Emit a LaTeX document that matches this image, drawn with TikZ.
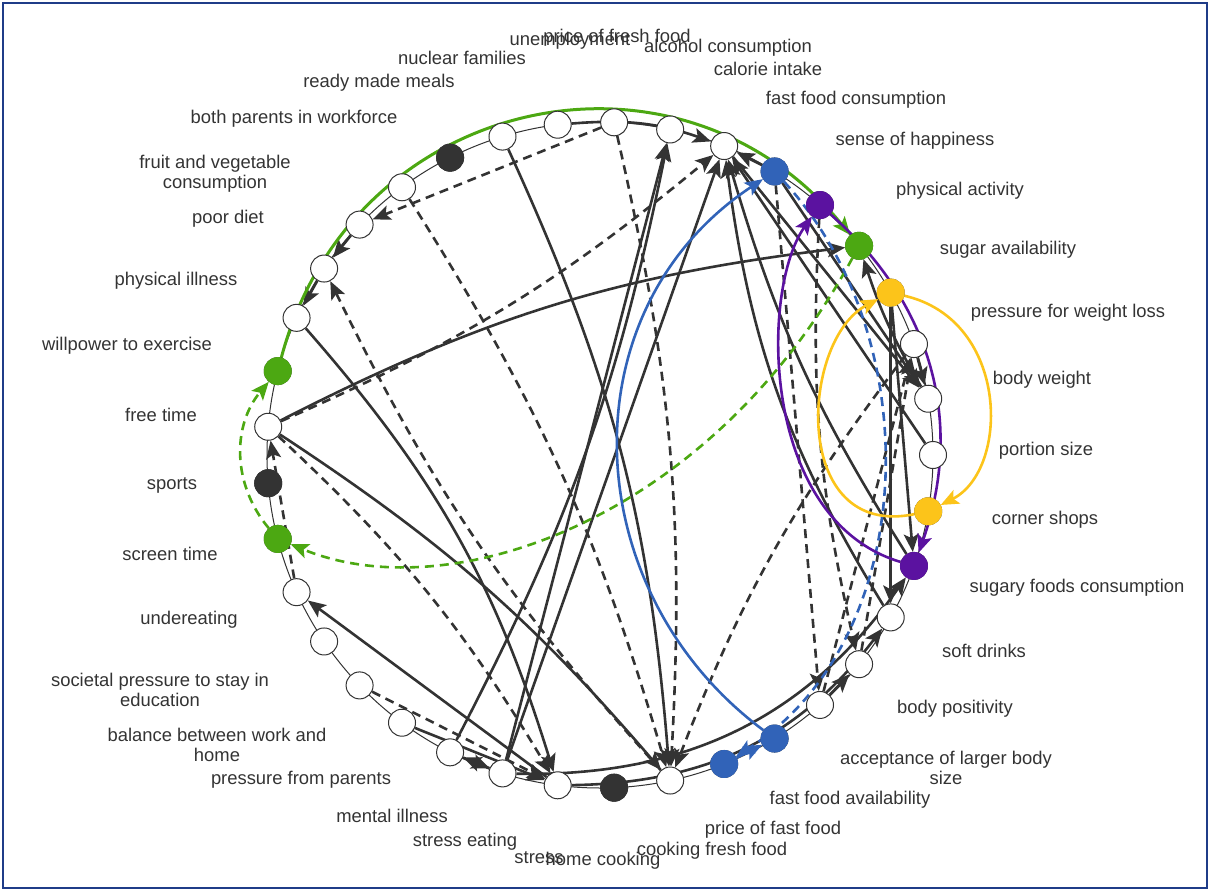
\documentclass[tikz,border=0pt]{standalone}
\usepackage{fontspec}
\setmainfont{Liberation Sans}
\usetikzlibrary{arrows.meta}
\definecolor{ink}{HTML}{333333}
\definecolor{cblue}{HTML}{3163B8}
\definecolor{cpurple}{HTML}{5B12A0}
\definecolor{cgreen}{HTML}{4CA812}
\definecolor{cyellow}{HTML}{FCC41A}
\definecolor{framec}{HTML}{1F3C88}
\pgfdeclarelayer{links}
\pgfsetlayers{links,main}
\begin{document}
\begin{tikzpicture}[x=0.5pt,y=0.5pt,
  lbl/.style={font=\fontsize{9.2pt}{10pt}\selectfont, text=ink, align=center, inner sep=0pt},
  vert/.style={circle, draw=ink, line width=0.5pt, fill=white, minimum size=13.5pt, inner sep=0pt},
  tip/.style={-{Stealth[length=9pt,width=7.5pt,inset=2pt]}},
  plink/.style={draw=ink, line width=1.3pt, tip},
  nlink/.style={plink, dash pattern=on 4.5pt off 3pt},
  hl/.style={line width=1.3pt, tip},
  hldash/.style={hl, dash pattern=on 4.5pt off 3pt}]
\useasboundingbox (0,0) rectangle (1210,891);
\draw[framec, line width=1pt] (3,3) rectangle (1207,888);
% vertices, evenly spaced on the ring
\begin{scope}[shift={(600,436)}]
\foreach \k in {1,...,37}
  \node[vert] (n\k) at ({(30-\k)*360/37}:333) {};
\end{scope}
\foreach \k in {2,11,18}
  \node[vert, fill=ink] at (n\k) {};
\foreach \k/\c in {24/cblue,36/cblue,37/cblue,25/cpurple,32/cpurple,13/cgreen,10/cgreen,26/cgreen,27/cyellow,31/cyellow}
  \node[vert, fill=\c, draw=\c] at (n\k) {};

% labels
\node[lbl] at (570,850) {unemployment};
\node[lbl] at (617,853) {price of fresh food};
\node[lbl] at (728,843) {alcohol consumption};
\node[lbl] at (462,833) {nuclear families};
\node[lbl] at (768,822) {calorie intake};
\node[lbl] at (379,808) {ready made meals};
\node[lbl] at (856,791) {fast food consumption};
\node[lbl] at (294,772) {both parents in workforce};
\node[lbl] at (915,750) {sense of happiness};
\node[lbl] at (215,717) {fruit and vegetable\\consumption};
\node[lbl] at (960,700) {physical activity};
\node[lbl] at (228,672) {poor diet};
\node[lbl] at (1008,641) {sugar availability};
\node[lbl] at (176,610) {physical illness};
\node[lbl] at (1068,578) {pressure for weight loss};
\node[lbl] at (127,545) {willpower to exercise};
\node[lbl] at (1042,511) {body weight};
\node[lbl] at (161,476) {free time};
\node[lbl] at (1046,440) {portion size};
\node[lbl] at (172,406) {sports};
\node[lbl] at (1045,371) {corner shops};
\node[lbl] at (170,337) {screen time};
\node[lbl] at (1077,303) {sugary foods consumption};
\node[lbl] at (189,271) {undereating};
\node[lbl] at (984,240) {soft drinks};
\node[lbl] at (160,201) {societal pressure to stay in\\education};
\node[lbl] at (955,182) {body positivity};
\node[lbl] at (217,146) {balance between work and\\home};
\node[lbl] at (946,123) {acceptance of larger body\\size};
\node[lbl] at (301,111) {pressure from parents};
\node[lbl] at (850,91) {fast food availability};
\node[lbl] at (392,75) {mental illness};
\node[lbl] at (773,61) {price of fast food};
\node[lbl] at (465,49) {stress eating};
\node[lbl] at (712,40) {cooking fresh food};
\node[lbl] at (539,33) {stress};
\node[lbl] at (603,30) {home cooking};

\begin{pgfonlayer}{links}
% ring
\draw[ink, line width=0.5pt] (600,436) circle (333);
% black links
\draw[nlink] (n21) -- (n16);
\draw[plink] (n16) -- (n15);
\draw[plink] (n15) -- (n14);
\draw[nlink] (n1) to[bend left=8] (n15);
\draw[plink] (n14) to[bend left=12] (n3);
\draw[plink] (n12) to[bend left=10] (n26);
\draw[plink] (n12) to[bend left=8] (n1);
\draw[nlink] (n12) to[bend left=8] (n3);
\draw[nlink] (n17) to[bend left=8] (n1);
\draw[nlink] (n21) to[bend left=8] (n1);
\draw[plink] (n19) to[bend left=10] (n1);
\draw[nlink] (n12) to[bend right=8] (n23);
\draw[plink] (n4) -- (n22);
\draw[plink] (n5) to[bend right=8] (n22);
\draw[plink] (n4) -- (n23);
\draw[plink] (n3) -- (n9);
\draw[plink] (n6) -- (n3);
\draw[nlink] (n7) -- (n3);
\draw[plink] (n4) -- (n5);
\draw[plink] (n5) -- (n4);
\draw[nlink] (n9) -- (n12);
\draw[plink] (n20) to[bend left=12] (n23);
\draw[plink] (n24) -- (n23);
\draw[plink] (n23) -- (n29);
\draw[plink] (n24) -- (n29);
\draw[plink] (n28) -- (n29);
\draw[plink] (n29) to[bend left=6] (n26);
\draw[plink] (n27) -- (n32);
\draw[plink] (n27) -- (n33);
\draw[plink] (n33) to[bend left=12] (n23);
\draw[plink] (n32) to[bend left=8] (n23);
\draw[plink] (n30) -- (n23);
\draw[nlink] (n34) -- (n28);
\draw[nlink] (n35) -- (n28);
\draw[plink] (n4) to[bend right=28] (n32);
\draw[plink] (n3) to[bend right=26] (n33);
\draw[plink] (n35) -- (n34);
\draw[nlink] (n25) to[bend right=8] (n34);
\draw[nlink] (n24) -- (n35);
\draw[nlink] (n28) to[bend right=8] (n1);

% highlighted loops
\draw[hl, cgreen, line width=1.5pt] (n13) to[bend left=63, looseness=1.2] (n26);
\draw[hldash, cgreen] (n26) .. controls (710,371) and (450,281) .. (n10);
\draw[hldash, cgreen] (n10) to[bend left=40] (n13);
\draw[hl, cblue] (n36) .. controls (575,301) and (565,581) .. (n24);
\draw[hldash, cblue] (n24) .. controls (930,551) and (920,251) .. (n37);
\draw[hl, cblue] (n37) -- (n36);
\draw[hl, cpurple] (n25) to[bend left=34] (n32);
\draw[hl, cpurple] (n32) .. controls (760,371) and (760,601) .. (n25);
\draw[hl, cyellow] (n27) .. controls (1010,571) and (1010,421) .. (n31);
\draw[hl, cyellow] (n31) .. controls (790,351) and (800,551) .. (n27);
\end{pgfonlayer}
\end{tikzpicture}
\end{document}
